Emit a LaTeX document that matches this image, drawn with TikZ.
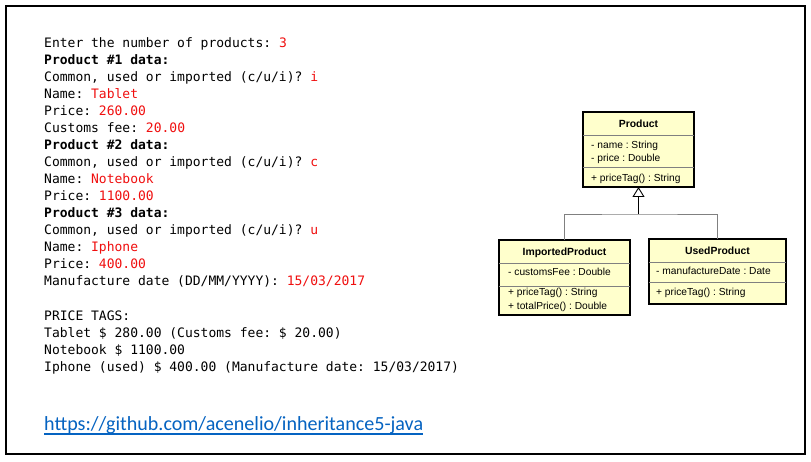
\documentclass[tikz,border=0pt]{standalone}
\usepackage{fontspec}
\usetikzlibrary{arrows.meta}
\newfontfamily\consolefont{DejaVu Sans Mono}
\newfontfamily\umlfont{Liberation Sans}
\newfontfamily\linkfont{Carlito}
\definecolor{consred}{RGB}{240,15,15}
\definecolor{umlfill}{RGB}{255,255,204}
\definecolor{sepgray}{RGB}{128,128,128}
\definecolor{linkblue}{HTML}{0563C1}
\frenchspacing
\begin{document}
\begin{tikzpicture}[x=1pt,y=-1pt,
  con/.style={anchor=base west, inner sep=0pt, font=\consolefont\fontsize{13}{15}\selectfont},
  umlbox/.style={draw=black, line width=2pt, fill=umlfill, inner sep=0pt, outer sep=0pt},
  umlsep/.style={draw=sepgray, line width=0.8pt},
  umltext/.style={anchor=base west, inner sep=0pt, font=\umlfont\fontsize{10.2}{12}\selectfont},
  umltitle/.style={anchor=base, inner sep=0pt, font=\umlfont\bfseries\fontsize{10.4}{12}\selectfont},
  link/.style={draw=sepgray, line width=0.9pt}]
\useasboundingbox (0,0) rectangle (811,462);
\fill[white] (0,0) rectangle (811,462);
% outer frame
\draw[line width=2pt] (6,6) rectangle (805,454);

% console session
\node[con] (l1)  at (44,48)  {Enter the number of products: \textcolor{consred}{3}};
\node[con] (l2)  at (44,65)  {\bfseries Product \#1 data:};
\node[con] (l3)  at (44,82)  {Common, used or imported (c/u/i)? \textcolor{consred}{i}};
\node[con] (l4)  at (44,99)  {Name: \textcolor{consred}{Tablet}};
\node[con] (l5)  at (44,116) {Price: \textcolor{consred}{260.00}};
\node[con] (l6)  at (44,133) {Customs fee: \textcolor{consred}{20.00}};
\node[con] (l7)  at (44,150) {\bfseries Product \#2 data:};
\node[con] (l8)  at (44,167) {Common, used or imported (c/u/i)? \textcolor{consred}{c}};
\node[con] (l9)  at (44,184) {Name: \textcolor{consred}{Notebook}};
\node[con] (l10) at (44,201) {Price: \textcolor{consred}{1100.00}};
\node[con] (l11) at (44,218) {\bfseries Product \#3 data:};
\node[con] (l12) at (44,235) {Common, used or imported (c/u/i)? \textcolor{consred}{u}};
\node[con] (l13) at (44,252) {Name: \textcolor{consred}{Iphone}};
\node[con] (l14) at (44,269) {Price: \textcolor{consred}{400.00}};
\node[con] (l15) at (44,286) {Manufacture date (DD/MM/YYYY): \textcolor{consred}{15/03/2017}};
\node[con] (l16) at (44,320) {PRICE TAGS:};
\node[con] (l17) at (44,337) {Tablet \$ 280.00 (Customs fee: \$ 20.00)};
\node[con] (l18) at (44,354) {Notebook \$ 1100.00};
\node[con] (l19) at (44,371) {Iphone (used) \$ 400.00 (Manufacture date: 15/03/2017)};

% repository link
\node[anchor=base west, inner sep=0pt, text=linkblue] (repo) at (44,430)
  {\resizebox{379pt}{!}{\linkfont\fontsize{17}{20}\selectfont https://github.com/acenelio/inheritance5-java}};
\draw[linkblue, line width=2pt] ([yshift=-4pt]repo.base west) -- ([yshift=-4pt]repo.base east);

% class Product
\node[umlbox, minimum width=111pt, minimum height=75pt] (product) at (638.5,149.5) {};
\draw[umlsep] ([yshift=-23pt]product.north west) -- ([yshift=-23pt]product.north east);
\draw[umlsep] ([yshift=-55pt]product.north west) -- ([yshift=-55pt]product.north east);
\node[umltitle] (ptitle) at (638.5,128) {Product};
\node[umltext] (pa1) at (591,149) {- name : String};
\node[umltext] (pa2) at (591,162) {- price : Double};
\node[umltext] (pm1) at (591,182) {+ priceTag() : String};

% class ImportedProduct
\node[umlbox, minimum width=131pt, minimum height=75pt] (imported) at (564.5,277.5) {};
\draw[umlsep] ([yshift=-23pt]imported.north west) -- ([yshift=-23pt]imported.north east);
\draw[umlsep] ([yshift=-46pt]imported.north west) -- ([yshift=-46pt]imported.north east);
\node[umltitle] (ititle) at (564.5,256) {ImportedProduct};
\node[umltext] (ia1) at (508,276) {- customsFee : Double};
\node[umltext] (im1) at (508,296) {+ priceTag() : String};
\node[umltext] (im2) at (508,309) {+ totalPrice() : Double};

% class UsedProduct
\node[umlbox, minimum width=137pt, minimum height=65pt] (used) at (717.5,271.5) {};
\draw[umlsep] ([yshift=-23pt]used.north west) -- ([yshift=-23pt]used.north east);
\draw[umlsep] ([yshift=-43pt]used.north west) -- ([yshift=-43pt]used.north east);
\node[umltitle] (utitle) at (717.5,255) {UsedProduct};
\node[umltext] (ua1) at (656,275) {- manufactureDate : Date};
\node[umltext] (um1) at (656,295) {+ priceTag() : String};

% generalization
\coordinate (joint) at (638.5,214);
\draw[link] (imported.north) |- (joint) -| (used.north);
\draw[line width=0.9pt, -{Triangle[open, width=12pt, length=10pt, fill=white]}] (joint) -- (product.south);
\end{tikzpicture}
\end{document}
